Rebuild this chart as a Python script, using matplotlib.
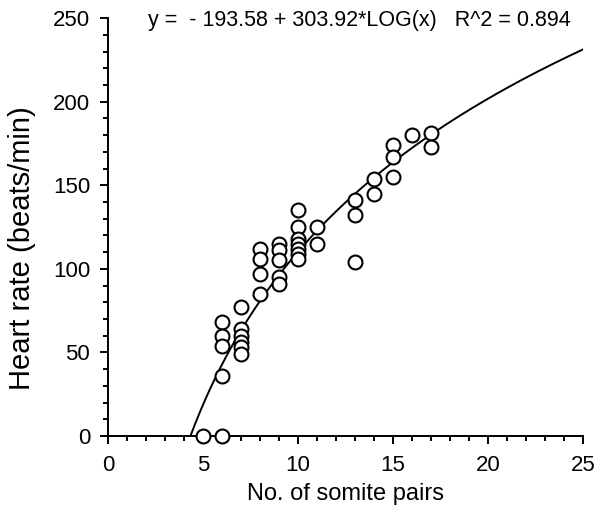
import numpy as np
import matplotlib
matplotlib.use("Agg")
import matplotlib.pyplot as plt
from matplotlib.ticker import MultipleLocator

plt.rcParams['font.family'] = ['Liberation Sans', 'DejaVu Sans']

# somite pairs and heart rate
somites = [5, 6, 6, 6, 6, 6,
           7, 7, 7, 7, 7, 7,
           8, 8, 8, 8,
           9, 9, 9, 9, 9,
           10, 10, 10, 10, 10, 10, 10,
           11, 11,
           13, 13, 13,
           14, 14,
           15, 15, 15,
           16,
           17, 17]
heart_rate = [0, 0, 68, 60, 54, 36,
              77, 64, 60, 56, 53, 49,
              112, 106, 97, 85,
              115, 111, 105, 95, 91,
              135, 125, 118, 115, 112, 109, 106,
              125, 115,
              141, 132, 104,
              154, 145,
              174, 167, 155,
              180,
              181, 173]

# fit y = a + b*log10(x)
fit_a = -193.58
fit_b = 303.92
r2 = 0.894

fig = plt.figure(figsize=(5.99, 5.14), dpi=100)
ax = fig.add_axes([0.1805, 0.1518, 0.793, 0.813])

x0 = 10 ** (-fit_a / fit_b)
xf = np.linspace(x0, 25, 300)
ax.plot(xf, fit_a + fit_b * np.log10(xf), color='black', lw=1.4, zorder=2)

ax.plot(somites, heart_rate, 'o', ms=10, mfc='white', mec='black', mew=1.5,
        clip_on=False, zorder=3)

ax.set_xlim(0, 25)
ax.set_ylim(0, 250)
ax.xaxis.set_major_locator(MultipleLocator(5))
ax.xaxis.set_minor_locator(MultipleLocator(1))
ax.yaxis.set_major_locator(MultipleLocator(50))
ax.yaxis.set_minor_locator(MultipleLocator(10))

for side in ['top', 'right']:
    ax.spines[side].set_visible(False)
for side in ['left', 'bottom']:
    ax.spines[side].set_linewidth(1.4)

ax.tick_params(which='major', direction='out', length=6, width=1.4, labelsize=16)
ax.tick_params(axis='x', which='major', pad=8)
ax.tick_params(axis='y', which='major', pad=7)
ax.tick_params(which='minor', direction='out', length=3.5, width=1.4)

ax.set_xlabel('No. of somite pairs', fontsize=17, labelpad=5)
ax.set_ylabel('Heart rate (beats/min)', fontsize=21, labelpad=12)
ax.yaxis.label.set_y(0.45)

ax.text(0.084, 0.995, 'y =  - 193.58 + 303.92*LOG(x)   R^2 = ' + str(r2),
        transform=ax.transAxes, fontsize=15.5, va='center', ha='left')

fig.savefig('out.png', dpi=100)
